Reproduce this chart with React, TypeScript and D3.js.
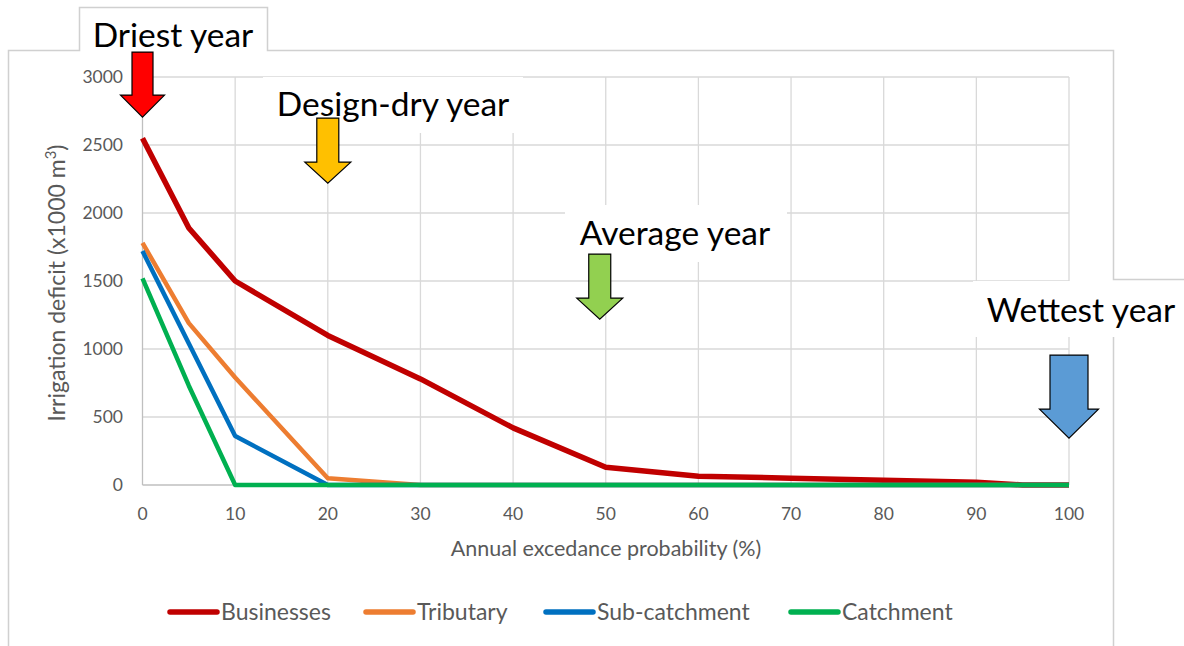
import React, { useRef, useEffect } from 'react';
import * as d3 from 'd3';

const probabilities = [0, 5, 10, 20, 30, 40, 50, 60, 70, 80, 90, 95, 100];
const businesses = [2550, 1890, 1500, 1100, 780, 420, 130, 65, 50, 35, 20, 0, 0];
const tributary = [1780, 1190, 790, 50, 0, 0, 0, 0, 0, 0, 0, 0, 0];
const subCatchment = [1720, 1040, 360, 0, 0, 0, 0, 0, 0, 0, 0, 0, 0];
const catchment = [1520, 730, 0, 0, 0, 0, 0, 0, 0, 0, 0, 0, 0];

const seriesNames = ['Businesses', 'Tributary', 'Sub-catchment', 'Catchment'];
const seriesColors = ['#C00000', '#ED7D31', '#0070C0', '#00B050'];

const xTicks = [0, 10, 20, 30, 40, 50, 60, 70, 80, 90, 100];
const yTicks = [0, 500, 1000, 1500, 2000, 2500, 3000];

// annotation arrows: x value, tip value, label
const arrowX = [0, 20, 50, 100];
const arrowTip = [2705, 2220, 1220, 345];
const arrowColors = ['#FF0000', '#FFC000', '#92D050', '#5B9BD5'];
const arrowLabels = ['Driest year', 'Design-dry year', 'Average year', 'Wettest year'];

const FONT = 'Lato, "Open Sans", sans-serif';

const App: React.FC = () => {
  const svgRef = useRef<SVGSVGElement | null>(null);
  const width = 1184;
  const height = 646;

  useEffect(() => {
    if (!svgRef.current) return;
    const svg = d3.select(svgRef.current);
    svg.selectAll('*').remove();

    const x = d3.scaleLinear().domain([0, 100]).range([142.5, 1069]);
    const y = d3.scaleLinear().domain([0, 3000]).range([485, 77]);

    svg.append('rect').attr('width', width).attr('height', height).attr('fill', '#fff');

    // chart frame with notches where label boxes sit
    const frame = '#D0D0D0';
    svg.append('path')
      .attr('d', 'M8.5,646 V50.5 H79.5 V7.5 H267.5 V50.5 H1113.5 V279.5 H1184')
      .attr('fill', 'none').attr('stroke', frame).attr('stroke-width', 1.5);
    svg.append('path')
      .attr('d', 'M1113.5,337 V646')
      .attr('fill', 'none').attr('stroke', frame).attr('stroke-width', 1.5);

    // gridlines
    const grid = svg.append('g').attr('stroke', '#D9D9D9').attr('stroke-width', 1.3);
    grid.selectAll('line.h').data(yTicks.filter(d => d > 0)).join('line')
      .attr('x1', x(0)).attr('x2', x(100))
      .attr('y1', d => y(d)).attr('y2', d => y(d));
    grid.selectAll('line.v').data(xTicks).join('line')
      .attr('x1', d => x(d)).attr('x2', d => x(d))
      .attr('y1', y(3000)).attr('y2', y(0))
      .attr('stroke', d => (d === 0 ? '#BFBFBF' : '#D9D9D9'));
    svg.append('line')
      .attr('x1', x(0)).attr('x2', x(100)).attr('y1', y(0)).attr('y2', y(0))
      .attr('stroke', '#BFBFBF').attr('stroke-width', 1.3);

    // tick labels
    svg.append('g').selectAll('text').data(yTicks).join('text')
      .attr('x', 123).attr('y', d => y(d)).attr('dy', '0.35em')
      .attr('text-anchor', 'end').attr('font-family', FONT).attr('font-size', 17.5)
      .attr('fill', '#595959').text(d => d);
    svg.append('g').selectAll('text').data(xTicks).join('text')
      .attr('x', d => x(d)).attr('y', 514).attr('dy', '0.35em')
      .attr('text-anchor', 'middle').attr('font-family', FONT).attr('font-size', 17.5)
      .attr('fill', '#595959').text(d => d);

    // axis titles
    svg.append('text')
      .attr('x', 606).attr('y', 548).attr('dy', '0.35em').attr('text-anchor', 'middle')
      .attr('font-family', FONT).attr('font-size', 21.5).attr('fill', '#595959')
      .text('Annual excedance probability (%)');
    const yTitle = svg.append('text')
      .attr('transform', 'translate(57,283) rotate(-90)')
      .attr('dy', '0.35em').attr('text-anchor', 'middle')
      .attr('font-family', FONT).attr('font-size', 23).attr('fill', '#595959');
    yTitle.append('tspan').text('Irrigation deficit (x1000 m');
    yTitle.append('tspan').attr('font-size', 15).attr('dy', '-0.6em').text('3');
    yTitle.append('tspan').attr('dy', '0.4em').text(')');

    // series lines
    const allSeries = [businesses, tributary, subCatchment, catchment];
    const line = d3.line<number>()
      .x((_, i) => x(probabilities[i]))
      .y(d => y(d));
    allSeries.forEach((values, i) => {
      svg.append('path')
        .datum(values)
        .attr('fill', 'none')
        .attr('stroke', seriesColors[i])
        .attr('stroke-width', i === 0 ? 5.5 : 4.5)
        .attr('stroke-linejoin', 'round')
        .attr('d', line);
    });

    // white label boxes covering grid
    const boxes = [
      [263, 77, 260, 56],
      [565, 205, 222, 57],
      [973, 281, 211, 56],
    ];
    boxes.forEach(b => {
      svg.append('rect').attr('x', b[0]).attr('y', b[1]).attr('width', b[2]).attr('height', b[3])
        .attr('fill', '#fff');
    });
    const labelPos = [[173, 35], [393, 104], [675, 233], [1081, 310]];
    arrowLabels.forEach((t, i) => {
      svg.append('text')
        .attr('x', labelPos[i][0]).attr('y', labelPos[i][1]).attr('dy', '0.35em')
        .attr('text-anchor', 'middle').attr('font-family', FONT).attr('font-size', 33.5)
        .attr('fill', '#000').text(t);
    });

    // arrows
    const sizes = [
      { shaft: 21, head: 44, headLen: 22, total: 65 },
      { shaft: 22, head: 46, headLen: 21, total: 65 },
      { shaft: 22, head: 46, headLen: 21, total: 65 },
      { shaft: 38, head: 59, headLen: 29, total: 83 },
    ];
    const tipOffset = [0, 0, -6, 0];
    arrowX.forEach((v, i) => {
      const s = sizes[i];
      const cx = x(v) + tipOffset[i];
      const ty = y(arrowTip[i]);
      const top = ty - s.total;
      const hy = ty - s.headLen;
      const pts: [number, number][] = [
        [cx - s.shaft / 2, top],
        [cx + s.shaft / 2, top],
        [cx + s.shaft / 2, hy],
        [cx + s.head / 2, hy],
        [cx, ty],
        [cx - s.head / 2, hy],
        [cx - s.shaft / 2, hy],
      ];
      svg.append('path')
        .attr('d', 'M' + pts.map(p => p.join(',')).join('L') + 'Z')
        .attr('fill', arrowColors[i]).attr('stroke', '#000').attr('stroke-width', 1.2)
        .attr('stroke-linejoin', 'miter');
    });

    // legend
    const legendX = [170, 366, 546, 791];
    const legendY = 612;
    seriesNames.forEach((name, i) => {
      const g = svg.append('g');
      g.append('line')
        .attr('x1', legendX[i]).attr('x2', legendX[i] + 47)
        .attr('y1', legendY).attr('y2', legendY)
        .attr('stroke', seriesColors[i]).attr('stroke-width', 5.5).attr('stroke-linecap', 'round');
      g.append('text')
        .attr('x', legendX[i] + 51).attr('y', legendY).attr('dy', '0.35em')
        .attr('font-family', FONT).attr('font-size', 23).attr('fill', '#595959').text(name);
    });
  }, []);

  return (
    <div style={{ position: 'absolute', left: 0, top: 0 }}>
      <svg ref={svgRef} width={width} height={height} style={{ display: 'block' }} />
    </div>
  );
};

export default App;
